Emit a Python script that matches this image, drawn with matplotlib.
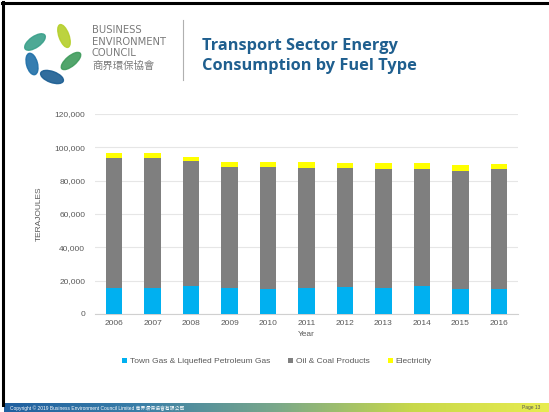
import numpy as np
import matplotlib
matplotlib.use("Agg")
import matplotlib.pyplot as plt
from matplotlib.patches import Ellipse
from matplotlib.ticker import FuncFormatter

plt.rcParams['font.family'] = ['Liberation Sans', 'Noto Sans CJK TC', 'DejaVu Sans']

years = ['2006', '2007', '2008', '2009', '2010', '2011', '2012', '2013', '2014', '2015', '2016']
town_gas = [15800, 15800, 17000, 15400, 15200, 15800, 16200, 15600, 16800, 15000, 15000]
oil_coal = [78000, 78000, 74800, 72600, 73200, 72000, 71200, 71400, 70000, 71000, 71800]
electricity = [3000, 3000, 2600, 3200, 3000, 3200, 3400, 3400, 3600, 3400, 3200]

series_names = ['Town Gas & Liquefied Petroleum Gas', 'Oil & Coal Products', 'Electricity']
colors = ['#00b0f0', '#7f7f7f', '#ffff00']
tick_color = '#595959'

fig = plt.figure(figsize=(5.49, 4.12), dpi=100)
fig.patch.set_facecolor('white')

# decoration layer in pixel coordinates
deco = fig.add_axes([0, 0, 1, 1])
deco.axis('off')

# slide border (top & left)
deco.plot([2, 549], [2.5, 2.5], color='black', lw=2.2)
deco.plot([2.5, 2.5], [2, 405], color='black', lw=2.2)

# logo petals
petals = [
    (64, 36, 24, 10, 70, '#b5cf2a'),
    (35, 42, 24, 11, 145, '#3aa08a'),
    (32, 64, 22, 11, 255, '#1f6fa8'),
    (52, 77, 24, 11, 200, '#1a5d92'),
    (71, 61, 24, 10, 320, '#3f9b5c'),
]
for px, py, w, h, ang, c in petals:
    deco.add_patch(Ellipse((px, py), w, h, angle=ang, color=c, alpha=0.9))

for i, t in enumerate(['BUSINESS', 'ENVIRONMENT', 'COUNCIL']):
    deco.text(92, 30 + i * 11.5, t, fontsize=7.2, color='#7a7a7a', va='center', ha='left',
              family=['DejaVu Sans'], fontweight='normal')
deco.text(92, 65.5, '商界環保協會', fontsize=7.5, color='#7a7a7a', va='center', ha='left',
          family=['Noto Sans CJK TC', 'DejaVu Sans'])
deco.plot([183, 183], [20, 80], color='#b0b0b0', lw=0.8)

deco.text(202, 46, 'Transport Sector Energy', fontsize=11.8, fontweight='bold',
          color='#1f5f8f', family=['Open Sans', 'DejaVu Sans'], va='center', ha='left')
deco.text(202, 66, 'Consumption by Fuel Type', fontsize=11.8, fontweight='bold',
          color='#1f5f8f', family=['Open Sans', 'DejaVu Sans'], va='center', ha='left')

# footer gradient bar
grad = np.linspace(0, 1, 256).reshape(1, -1)
cmap = matplotlib.colors.LinearSegmentedColormap.from_list(
    'footer', ['#1f5f9f', '#3a7fa8', '#7aa88a', '#c8d84a', '#e8ec50'])
deco.imshow(grad, extent=[4, 549, 412, 403], aspect='auto', cmap=cmap, zorder=1)
deco.set_xlim(0, 549)
deco.set_ylim(412, 0)
deco.text(10, 408, 'Copyright © 2019 Business Environment Council Limited 商界環保協會有限公司',
          fontsize=3.5, color='white', va='center', ha='left', zorder=2,
          family=['Liberation Sans', 'Noto Sans CJK TC'])
deco.text(540, 408, 'Page 13', fontsize=3.5, color='#555555', va='center', ha='right', zorder=2)

# chart
ax = fig.add_axes([95 / 549, 1 - 314 / 412, 423 / 549, 200 / 412])
x = np.arange(len(years))
bw = 0.43
bottom = np.zeros(len(years))
for vals, c, name in zip([town_gas, oil_coal, electricity], colors, series_names):
    ax.bar(x, vals, bw, bottom=bottom, color=c, label=name, zorder=3)
    bottom += np.array(vals)

ax.set_xlim(-0.5, len(years) - 0.5)
ax.set_ylim(0, 120000)
ax.set_yticks(np.arange(0, 120001, 20000))
ax.yaxis.set_major_formatter(FuncFormatter(lambda v, p: f'{int(v):,}'))
ax.set_xticks(x)
ax.set_xticklabels(years)
ax.grid(axis='y', color='#e6e6e6', lw=0.8, zorder=0)
for s in ['top', 'right', 'left']:
    ax.spines[s].set_visible(False)
ax.spines['bottom'].set_color('#d0d0d0')
ax.tick_params(axis='both', length=0, labelsize=6, labelcolor=tick_color)
ax.tick_params(axis='y', pad=7)
ax.tick_params(axis='x', pad=4)
ax.set_ylabel('TERAJOULES', fontsize=6, color=tick_color, labelpad=8)
ax.set_xlabel('Year', fontsize=6, color=tick_color, labelpad=3)

ax.legend(loc='upper center', bbox_to_anchor=(0.43, -0.18), ncol=3, frameon=False,
          fontsize=6, labelcolor=tick_color, handlelength=0.6, handleheight=0.6,
          handletextpad=0.3, columnspacing=2.2)

fig.savefig('out.png', dpi=100)
